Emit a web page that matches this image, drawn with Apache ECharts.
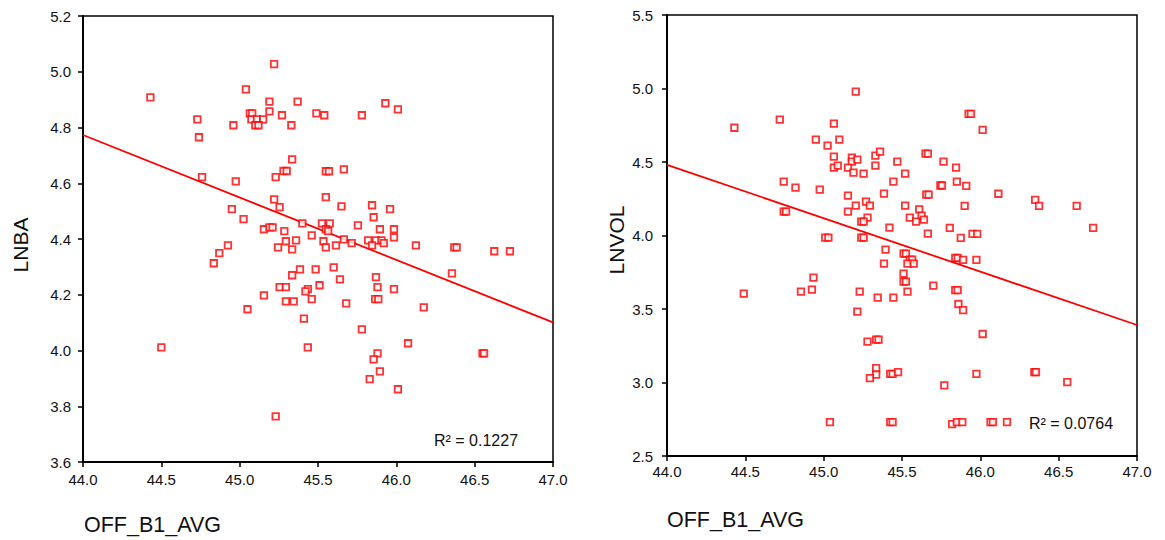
<!DOCTYPE html>
<html>
<head>
<meta charset="utf-8">
<script src="https://cdn.jsdelivr.net/npm/echarts@6/dist/echarts.min.js"></script>
<style>
html,body{margin:0;padding:0;background:#fff;}
#chart{width:1165px;height:540px;}
</style>
</head>
<body>
<div id="chart"></div>
<script>
// ---- Data ----
const xTitle = 'OFF_B1_AVG';
const leftYTitle = 'LNBA';
const rightYTitle = 'LNVOL';
const leftR2 = 'R² = 0.1227';
const rightR2 = 'R² = 0.0764';

// Left panel: OFF_B1_AVG vs LNBA
const lnbaPoints = [
  [44.43,4.908],[45.22,5.027],[45.04,4.937],[45.19,4.893],[45.37,4.893],
  [44.73,4.829],[44.74,4.765],[44.96,4.808],[45.065,4.851],[45.08,4.851],
  [45.075,4.829],[45.11,4.829],[45.15,4.829],[45.10,4.808],[45.12,4.808],
  [45.19,4.858],[45.27,4.844],[45.33,4.808],[45.49,4.851],[45.54,4.844],
  [45.78,4.844],[45.93,4.887],[46.01,4.865],[45.335,4.686],[45.28,4.644],
  [45.30,4.644],[45.23,4.622],[44.76,4.622],[44.975,4.607],[45.55,4.643],
  [45.57,4.643],[45.665,4.650],[45.22,4.542],[45.255,4.514],[45.55,4.550],
  [45.65,4.517],[45.845,4.521],[45.855,4.478],[45.96,4.507],[44.95,4.507],
  [45.025,4.471],[45.40,4.456],[45.525,4.456],[45.575,4.456],[45.755,4.449],
  [45.155,4.435],[45.19,4.442],[45.21,4.442],[45.285,4.428],[45.46,4.413],
  [45.55,4.435],[45.565,4.428],[45.895,4.435],[45.985,4.435],[45.985,4.406],
  [45.295,4.392],[45.36,4.395],[45.535,4.392],[45.665,4.399],[45.715,4.385],
  [45.615,4.377],[45.55,4.370],[45.245,4.370],[45.335,4.363],[45.82,4.395],
  [45.87,4.395],[45.905,4.395],[45.92,4.385],[45.845,4.377],[46.125,4.377],
  [44.925,4.377],[44.87,4.349],[44.835,4.313],[46.37,4.370],[46.385,4.370],
  [46.625,4.356],[46.725,4.356],[46.355,4.277],[46.175,4.155],[46.55,3.990],
  [46.56,3.990],[45.385,4.291],[45.485,4.291],[45.60,4.298],[45.335,4.270],
  [45.64,4.255],[45.87,4.263],[45.255,4.227],[45.295,4.227],[45.435,4.220],
  [45.42,4.212],[45.51,4.234],[45.88,4.227],[45.985,4.220],[45.155,4.198],
  [45.295,4.176],[45.345,4.176],[45.46,4.184],[45.68,4.169],[45.865,4.184],
  [45.885,4.184],[45.05,4.148],[45.41,4.114],[45.78,4.076],[44.50,4.011],
  [45.435,4.011],[46.075,4.026],[45.88,3.990],[45.855,3.968],[45.895,3.925],
  [45.83,3.897],[46.01,3.861],[45.23,3.764]
];
const lnbaFit = [[44.0,4.773],[47.0,4.101]];

// Right panel: OFF_B1_AVG vs LNVOL
const lnvolPoints = [
  [44.43,4.733],[44.72,4.788],[45.205,4.979],[45.065,4.761],[44.95,4.652],
  [45.10,4.652],[45.025,4.612],[45.065,4.537],[45.065,4.462],[45.09,4.476],
  [45.18,4.530],[45.18,4.503],[45.215,4.516],[45.155,4.462],[45.19,4.428],
  [45.255,4.421],[45.33,4.544],[45.36,4.571],[45.33,4.476],[45.47,4.503],
  [45.52,4.421],[45.65,4.557],[45.665,4.557],[45.765,4.503],[45.845,4.462],
  [45.925,4.828],[45.94,4.828],[46.015,4.719],[44.745,4.367],[44.82,4.326],
  [44.975,4.312],[44.745,4.163],[44.76,4.163],[45.155,4.271],[45.155,4.163],
  [45.205,4.203],[45.27,4.231],[45.295,4.203],[45.385,4.285],[45.445,4.367],
  [45.745,4.340],[45.755,4.340],[45.655,4.278],[45.67,4.278],[45.85,4.367],
  [45.91,4.338],[45.52,4.203],[45.61,4.178],[45.55,4.122],[45.625,4.135],
  [45.64,4.108],[45.59,4.094],[45.28,4.122],[45.24,4.094],[45.255,4.094],
  [45.90,4.202],[46.115,4.284],[46.35,4.243],[46.375,4.202],[46.615,4.202],
  [46.72,4.052],[45.42,4.054],[45.805,4.052],[45.665,4.013],[45.875,3.984],
  [45.95,4.011],[45.98,4.011],[45.01,3.986],[45.03,3.986],[45.24,3.986],
  [45.255,3.986],[45.395,3.904],[45.51,3.877],[45.525,3.877],[45.55,3.836],
  [45.565,3.836],[45.535,3.809],[45.575,3.809],[45.385,3.809],[45.84,3.847],
  [45.855,3.847],[45.89,3.834],[45.975,3.834],[45.51,3.741],[45.51,3.686],
  [45.525,3.686],[45.70,3.659],[44.935,3.714],[44.855,3.618],[44.925,3.632],
  [44.49,3.605],[45.23,3.618],[45.345,3.578],[45.445,3.578],[45.535,3.618],
  [45.84,3.629],[45.855,3.629],[45.86,3.534],[45.89,3.493],[45.215,3.482],
  [45.28,3.278],[45.335,3.292],[45.35,3.292],[46.015,3.330],[45.335,3.098],
  [45.335,3.053],[45.295,3.030],[45.425,3.058],[45.44,3.058],[45.475,3.071],
  [45.975,3.058],[46.345,3.071],[46.355,3.071],[45.77,2.980],[46.555,3.003],
  [45.04,2.731],[45.425,2.731],[45.44,2.731],[45.82,2.717],[45.85,2.731],
  [45.885,2.731],[46.065,2.731],[46.08,2.731],[46.17,2.731]
];
const lnvolFit = [[44.0,4.481],[47.0,3.391]];

// Axis ranges
const xRange = {min:44.0, max:47.0, interval:0.5};
const leftYRange = {min:3.6, max:5.2, interval:0.2};
const rightYRange = {min:2.5, max:5.5, interval:0.5};

// ---- Chart ----
const FONT = '"Liberation Sans", Arial, Helvetica, sans-serif';
const TXT = '#111111';
const chart = echarts.init(document.getElementById('chart'), null, {renderer:'svg'});

function xAxisCfg(gridIndex, margin){
  return {
    type:'value', gridIndex, min:xRange.min, max:xRange.max, interval:xRange.interval,
    axisLine:{show:true, onZero:false, lineStyle:{color:'#000', width:2}},
    axisTick:{show:true, inside:false, length:5, lineStyle:{color:'#000', width:1.5}},
    axisLabel:{show:true, margin, color:TXT, fontSize:15, fontFamily:FONT,
      showMinLabel:true, showMaxLabel:true, formatter:v=>v.toFixed(1)},
    splitLine:{show:false}
  };
}
function yAxisCfg(gridIndex, r, margin){
  return {
    type:'value', gridIndex, min:r.min, max:r.max, interval:r.interval,
    axisLine:{show:true, onZero:false, lineStyle:{color:'#000', width:2}},
    axisTick:{show:true, inside:false, length:5, lineStyle:{color:'#000', width:1.5}},
    axisLabel:{show:true, margin, color:TXT, fontSize:15, fontFamily:FONT,
      showMinLabel:true, showMaxLabel:true, formatter:v=>v.toFixed(1)},
    splitLine:{show:false}
  };
}
const markerStyle = {color:'#ffffff', borderColor:'#ff0000', borderWidth:1.8};

const option = {
  backgroundColor:'#ffffff',
  animation:false,
  grid:[
    {left:83, top:16, width:470, height:446, show:true, borderColor:'#000', borderWidth:1.5, backgroundColor:'transparent'},
    {left:667, top:15, width:470, height:441, show:true, borderColor:'#000', borderWidth:1.5, backgroundColor:'transparent'}
  ],
  xAxis:[xAxisCfg(0, 10), xAxisCfg(1, 8)],
  yAxis:[yAxisCfg(0, leftYRange, 12), yAxisCfg(1, rightYRange, 14)],
  series:[
    {type:'scatter', xAxisIndex:0, yAxisIndex:0, data:lnbaPoints, symbol:'rect', symbolSize:6.5, itemStyle:markerStyle, z:3},
    {type:'line', xAxisIndex:0, yAxisIndex:0, data:lnbaFit, symbol:'none', lineStyle:{color:'#ff0000', width:1.8}, z:2},
    {type:'scatter', xAxisIndex:1, yAxisIndex:1, data:lnvolPoints, symbol:'rect', symbolSize:6.5, itemStyle:markerStyle, z:3},
    {type:'line', xAxisIndex:1, yAxisIndex:1, data:lnvolFit, symbol:'none', lineStyle:{color:'#ff0000', width:1.8}, z:2}
  ],
  graphic:[
    {type:'text', x:20, y:245, rotation:Math.PI/2, style:{text:leftYTitle, font:'21px '+FONT, fill:TXT, align:'center', verticalAlign:'middle'}},
    {type:'text', x:616, y:240, rotation:Math.PI/2, style:{text:rightYTitle, font:'21px '+FONT, fill:TXT, align:'center', verticalAlign:'middle'}},
    {type:'text', x:84, y:525, style:{text:xTitle, font:'21.5px '+FONT, fill:TXT, align:'left', verticalAlign:'middle'}},
    {type:'text', x:667, y:520, style:{text:xTitle, font:'21.5px '+FONT, fill:TXT, align:'left', verticalAlign:'middle'}},
    {type:'text', x:434, y:440, z:10, style:{text:leftR2, font:'16px '+FONT, fill:TXT, align:'left', verticalAlign:'middle'}},
    {type:'text', x:1029, y:423, z:10, style:{text:rightR2, font:'16px '+FONT, fill:TXT, align:'left', verticalAlign:'middle'}}
  ]
};
chart.setOption(option);
</script>
</body>
</html>
